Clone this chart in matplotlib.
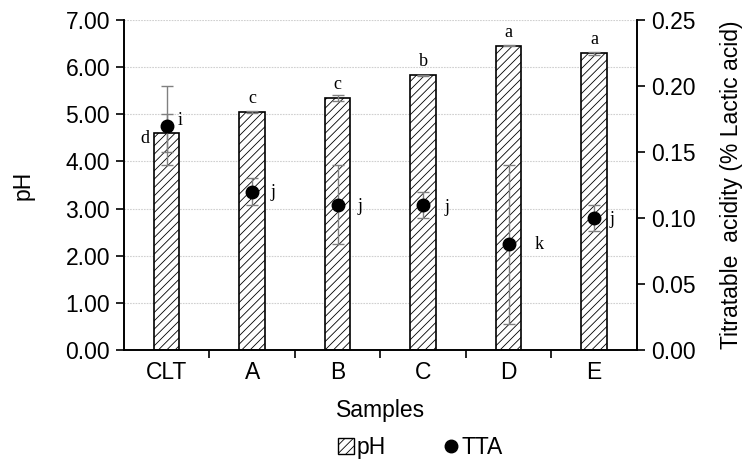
import numpy as np
import matplotlib
matplotlib.use('Agg')
from matplotlib import pyplot as plt
from matplotlib.patches import Patch
from matplotlib.lines import Line2D

plt.rcParams['font.family'] = ['Liberation Sans', 'DejaVu Sans']
plt.rcParams['hatch.linewidth'] = 0.6

# data
samples = ['CLT', 'A', 'B', 'C', 'D', 'E']
ph = [4.60, 5.05, 5.34, 5.83, 6.45, 6.29]
ph_err = [0.40, 0.03, 0.06, 0.01, 0.01, 0.03]
ph_letters = ['d', 'c', 'c', 'b', 'a', 'a']
tta = [0.170, 0.120, 0.110, 0.110, 0.080, 0.100]
tta_err = [0.030, 0.010, 0.030, 0.010, 0.060, 0.010]
tta_letters = ['i', 'j', 'j', 'j', 'k', 'j']

x = np.arange(len(samples))
fs = 16.5

fig = plt.figure(figsize=(7.51, 4.62), dpi=100)
ax = fig.add_axes([0.165, 0.2424, 0.683, 0.7143])
ax2 = ax.twinx()

# pH bars
ax.bar(x, ph, width=0.3, color='white', edgecolor='black', hatch='////',
       linewidth=1.2, zorder=2)
ax.errorbar(x, ph, yerr=ph_err, fmt='none', ecolor='#808080', elinewidth=1,
            capsize=4, capthick=1, zorder=3)

# TTA points
ax2.errorbar(x, tta, yerr=tta_err, fmt='o', color='black', ms=9,
             ecolor='#808080', elinewidth=1, capsize=4, capthick=1, zorder=4)

# letters
ltr_font = dict(family=['Liberation Serif', 'DejaVu Serif'], fontsize=13)
for i, (v, l) in enumerate(zip(ph, ph_letters)):
    if i == 0:
        ax.annotate(l, (x[i], v), xytext=(-16, -4), textcoords='offset points',
                    ha='center', va='center', **ltr_font)
    else:
        ax.annotate(l, (x[i], v), xytext=(0, 10), textcoords='offset points',
                    ha='center', va='center', **ltr_font)
tta_dx = [10, 15, 16, 17, 22, 13]
tta_dy = [4, -1, -1, -2, 0, -1]
for i, (v, l) in enumerate(zip(tta, tta_letters)):
    ax2.annotate(l, (x[i], v), xytext=(tta_dx[i], tta_dy[i]),
                 textcoords='offset points', ha='center', va='center', **ltr_font)

# axes
ax.set_xlim(-0.5, len(samples) - 0.5)
ax.set_ylim(0, 7)
ax2.set_ylim(0, 0.25)
ax.set_yticks(np.arange(0, 7.01, 1.0))
ax.set_yticklabels(['%.2f' % t for t in np.arange(0, 7.01, 1.0)])
ax2.set_yticks(np.arange(0, 0.251, 0.05))
ax2.set_yticklabels(['%.2f' % t for t in np.arange(0, 0.251, 0.05)])

ax.set_xticks(x)
ax.set_xticklabels(samples)
ax.set_xticks(np.arange(0.5, len(samples) - 0.5, 1.0), minor=True)
ax.tick_params(axis='x', which='major', length=0, pad=8, labelsize=fs)
ax.tick_params(axis='x', which='minor', length=6, width=1.2, direction='out')
ax.tick_params(axis='y', length=6, width=1.2, labelsize=fs, pad=4)
ax2.tick_params(axis='y', length=6, width=1.2, labelsize=fs, pad=4)

ax.yaxis.grid(True, color='#d0d0d0', linestyle=(0, (1.5, 1)), linewidth=0.8)
ax.set_axisbelow(True)

for a in (ax, ax2):
    a.spines['top'].set_visible(False)
    a.spines['left'].set_linewidth(1.2)
    a.spines['right'].set_linewidth(1.2)
    a.spines['bottom'].set_linewidth(1.2)

ax.set_xlabel('Samples', fontsize=fs, labelpad=11)
ax.set_ylabel('pH', fontsize=fs, labelpad=22)
ax2.set_ylabel('Titratable  acidity (% Lactic acid)', fontsize=fs, labelpad=18)

handles = [Patch(facecolor='white', edgecolor='black', hatch='////', label='pH'),
           Line2D([], [], marker='o', color='black', linestyle='none', ms=9,
                  label='TTA')]
fig.legend(handles=handles, loc='center', bbox_to_anchor=(0.56, 0.032), ncol=2,
           frameon=False, fontsize=fs, handlelength=0.7, handleheight=0.7,
           handletextpad=0.1, columnspacing=2.5, borderpad=0.2)

fig.savefig('out.png', dpi=100)
